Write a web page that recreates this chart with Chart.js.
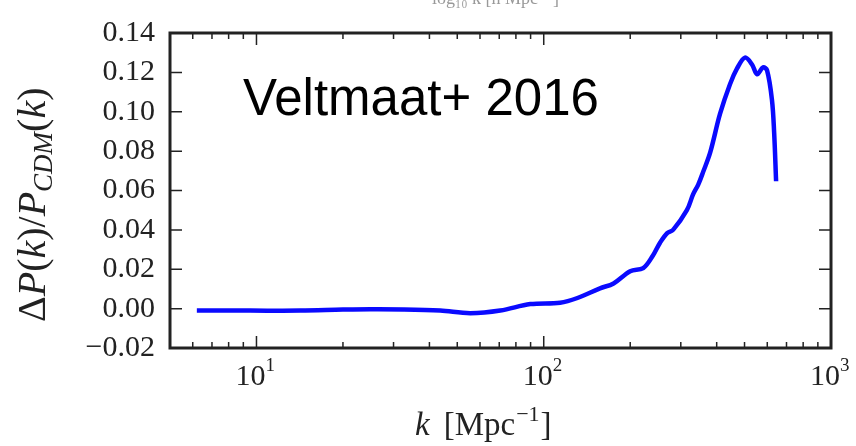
<!DOCTYPE html>
<html>
<head>
<meta charset="utf-8">
<script src="https://cdn.jsdelivr.net/npm/chart.js@4"></script>
<style>
  html, body { margin: 0; padding: 0; background: #fff; }
  #wrap { width: 856px; height: 446px; position: relative; }
</style>
</head>
<body>
<div id="wrap"><canvas id="grafico"></canvas></div>
<script>
// datos (k en Mpc^-1, cociente de potencia)
const kValues = [6.2, 9.5, 14.2, 20, 24.9, 32.5, 43.6, 55.5, 70.6, 89.8, 114, 131, 157, 175, 200, 222, 240, 254, 269, 282, 315, 331, 345, 359, 380, 411, 445, 471, 502, 531, 553, 580, 599, 623, 634, 644];
const ratioValues = [-0.001, -0.001, -0.001, -0.0005, -0.0003, -0.0004, -0.001, -0.0023, -0.001, 0.0023, 0.003, 0.0054, 0.0103, 0.0128, 0.019, 0.0206, 0.027, 0.0335, 0.0384, 0.040, 0.050, 0.058, 0.063, 0.0695, 0.0795, 0.099, 0.114, 0.122, 0.1275, 0.124, 0.119, 0.1225, 0.121, 0.106, 0.0894, 0.0647];
const yTicks = [-0.02, 0, 0.02, 0.04, 0.06, 0.08, 0.10, 0.12, 0.14];
const xMajorTicks = [10, 100, 1000];
const xTickExponents = ['1', '2', '3'];
const xMinorTicks = [6, 7, 8, 9, 20, 30, 40, 50, 60, 70, 80, 90, 200, 300, 400, 500, 600, 700, 800, 900];
const annotation = 'Veltmaat+ 2016';

const serif = '"Liberation Serif", "DejaVu Serif", serif';

// Marco, marcas hacia adentro y textos al estilo matplotlib
const framePlugin = {
  id: 'frame',
  afterDraw(chart) {
    const c = chart.ctx;
    const a = chart.chartArea;
    const xs = chart.scales.x, ys = chart.scales.y;
    c.save();
    c.strokeStyle = '#222';
    c.lineWidth = 1.5;
    c.beginPath();
    yTicks.forEach(v => {
      const py = ys.getPixelForValue(v);
      c.moveTo(a.left, py); c.lineTo(a.left + 12, py);
      c.moveTo(a.right, py); c.lineTo(a.right - 12, py);
    });
    xMajorTicks.forEach(v => {
      const px = xs.getPixelForValue(v);
      c.moveTo(px, a.bottom); c.lineTo(px, a.bottom - 12);
      c.moveTo(px, a.top); c.lineTo(px, a.top + 12);
    });
    xMinorTicks.forEach(v => {
      const px = xs.getPixelForValue(v);
      c.moveTo(px, a.bottom); c.lineTo(px, a.bottom - 6);
      c.moveTo(px, a.top); c.lineTo(px, a.top + 6);
    });
    c.stroke();
    c.lineWidth = 3;
    c.strokeRect(a.left, a.top, a.right - a.left, a.bottom - a.top);

    // etiquetas del eje x
    c.fillStyle = '#222';
    c.textBaseline = 'alphabetic';
    xMajorTicks.forEach((v, i) => {
      const px = xs.getPixelForValue(v);
      c.textAlign = 'center';
      c.font = '30px ' + serif;
      c.fillText('10', px - 6, a.bottom + 37);
      c.textAlign = 'left';
      c.font = '19px ' + serif;
      c.fillText(xTickExponents[i], px + 9, a.bottom + 23);
    });

    // titulo eje x: k [Mpc^-1]
    c.textAlign = 'left';
    let x0 = 415, by = 435;
    c.font = 'italic 33px ' + serif;
    c.fillText('k', x0, by);
    x0 += c.measureText('k').width + 14;
    c.font = '33px ' + serif;
    c.fillText('[Mpc', x0, by);
    x0 += c.measureText('[Mpc').width;
    c.font = '22px ' + serif;
    c.fillText('−1', x0 + 1, by - 14);
    x0 += c.measureText('−1').width + 2;
    c.font = '33px ' + serif;
    c.fillText(']', x0, by);

    // titulo eje y: ΔP(k)/P_CDM(k)
    c.save();
    c.translate(45, 322);
    c.rotate(-Math.PI / 2);
    let t = 0;
    const parts = [
      ['40px', 'Δ', 0], ['italic 40px', 'P', 0], ['40px', '(', 0], ['italic 40px', 'k', 0],
      ['40px', ')/', 0], ['italic 40px', 'P', 0], ['italic 27px', 'CDM', 7], ['40px', '(', 0],
      ['italic 40px', 'k', 0], ['40px', ')', 0]
    ];
    parts.forEach(p => {
      c.font = p[0] + ' ' + serif;
      c.fillText(p[1], t, p[2]);
      t += c.measureText(p[1]).width;
    });
    c.restore();

    // anotacion
    c.fillStyle = '#000';
    c.font = '51px "Liberation Sans", Arial, sans-serif';
    c.fillText(annotation, 243, 115);

    // texto recortado arriba
    c.fillStyle = '#999';
    c.font = '18px ' + serif;
    c.fillText('log₁₀ k [h Mpc⁻¹]', 432, 4);
    c.restore();
  }
};

const ctx = document.getElementById('grafico').getContext('2d');
new Chart(ctx, {
  type: 'line',
  data: {
    datasets: [{
      data: kValues.map((k, i) => ({ x: k, y: ratioValues[i] })),
      borderColor: '#0a0aff',
      borderWidth: 4.5,
      pointRadius: 0,
      tension: 0.35,
      fill: false
    }]
  },
  options: {
    responsive: true,
    maintainAspectRatio: false,
    animation: false,
    layout: { padding: { left: 0, right: 25, top: 25, bottom: 0 } },
    plugins: { legend: { display: false }, tooltip: { enabled: false } },
    scales: {
      x: {
        type: 'logarithmic',
        min: 5,
        max: 1000,
        grid: { display: false },
        border: { display: false },
        ticks: { display: false },
        afterFit(scale) { scale.height = 98; }
      },
      y: {
        min: -0.02,
        max: 0.14,
        grid: { display: false, drawTicks: false },
        border: { display: false },
        ticks: {
          stepSize: 0.02,
          padding: 15,
          color: '#222',
          font: { family: serif, size: 30 },
          callback: v => (v < -1e-9 ? '−' : '') + Math.abs(v).toFixed(2)
        },
        afterFit(scale) { scale.width = 170; }
      }
    }
  },
  plugins: [framePlugin]
});
</script>
</body>
</html>
